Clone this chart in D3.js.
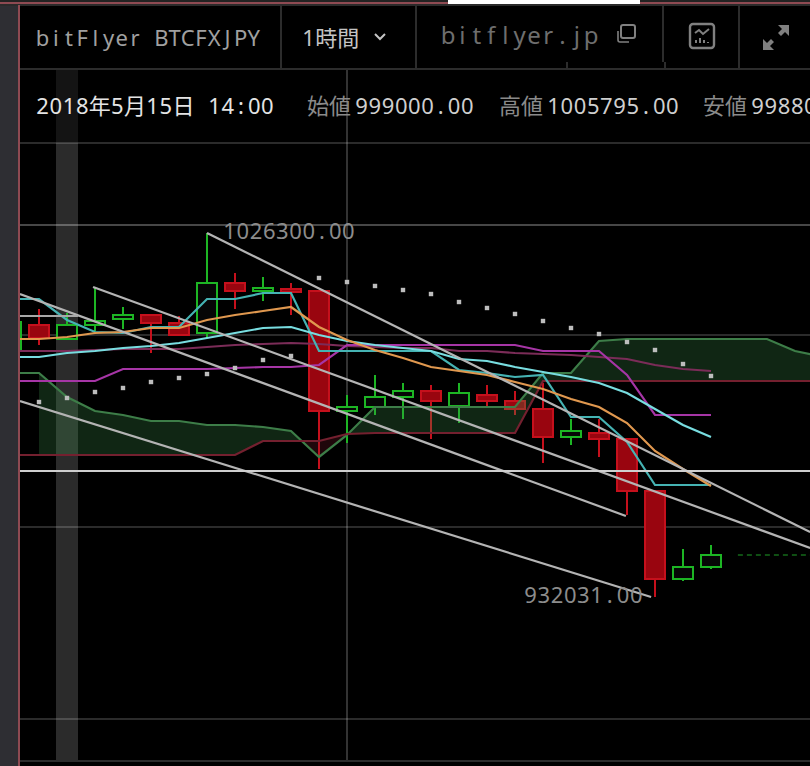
<!DOCTYPE html>
<html><head><meta charset="utf-8">
<script src="https://cdnjs.cloudflare.com/ajax/libs/d3/7.8.5/d3.min.js"></script>
<style>html,body{margin:0;padding:0;background:#000;overflow:hidden}svg{display:block}</style>
</head><body><svg id="c" width="810" height="766"></svg>
<script>
const candleIndex = d3.range(-1, 25);
const opens  = [996260,1002480,998850,1002480,1004030,1005070,1002990,1000400,1013350,1011280,1011800,1011280,980200,981240,983830,985380,981500,984350,982790,980720,973470,974500,972950,959480,936690,939800];
const highs  = [1003250,1006620,1005580,1012320,1007140,1005070,1004810,1026300,1015940,1014910,1013350,1011280,984350,989530,987450,986940,987450,986940,985380,987450,978130,978130,972950,959480,944460,945500];
const lows   = [996260,997300,998850,1000920,1001440,995220,999890,999110,1006620,1008690,1005070,965180,971910,979170,978130,972950,977090,981500,979170,966730,971400,968290,953270,932030,936170,939280];
const closes = [1003250,999110,1002480,1003510,1005070,1002990,999890,1013350,1011280,1012060,1011020,980200,981240,983830,985380,982790,984860,982790,980720,973470,975020,972950,959480,936690,939800,942910];
const tenkan = [1009210,1009210,1003770,1000660,1000400,1001960,1001960,1009210,1009210,1010760,1010760,995740,995740,995740,995740,995740,990820,990040,989010,989530,978650,978650,972170,961040,961040,961040];
const kijun  = [994190,994190,995220,995740,996520,997040,997810,999110,1000400,1001700,1001960,999890,998330,997300,996520,995740,993670,993150,991600,990300,989010,987450,984860,980720,976580,973470];
const ema    = [998850,998850,999370,1000400,1000660,1001700,1001700,1003770,1005070,1006100,1007140,1001960,998590,996000,993930,991600,990560,989530,987710,985900,983310,981240,977090,969840,965180,960780];
const sma    = [987970,987970,987970,987970,991080,991080,991080,991080,991340,991600,991600,992120,997300,997300,997300,997300,997300,997300,997300,995740,995740,995740,989530,979170,979170,979170];
const chikou = [995740,995740,995740,996000,996260,996260,996260,996780,997300,997550,997810,997550,997040,996780,996520,996520,995740,995740,995220,994960,994710,994190,993670,992120,991080,990560];
const spanIndex = d3.range(-1, 29);
const spanA = [990040,990040,983830,980200,979170,977610,977610,976580,976580,976060,975020,968290,973990,981240,981240,981240,981240,981240,981240,990040,990040,998330,998850,998850,998850,998850,998850,998850,995740,994190];
const spanB = [968800,968800,968800,968800,968800,968800,968800,968800,968800,972430,972430,972430,974240,974500,974500,974500,974500,974500,974500,987970,987970,987970,987970,987970,987970,987970,987970,987970,987970,987970];
const psarIndex = d3.range(0, 25);
const psar = [982530,983570,985120,986160,987710,988750,989780,991340,993410,994450,1014650,1013610,1012580,1011540,1010500,1008430,1006880,1005330,1003510,1001700,1000140,998070,996000,992370,989270];
const trendLines = [
  [[6,1026300],[27.54,948860]],
  [[1.93,1012320],[27.54,944720]],
  [[-0.68,1010500],[20.96,953010]],
  [[-0.68,982790],[21.86,932030]]
];
const gridPrices = [1049610,999880,950160,900430];
const brightGridPrice = 1028380;
const shortLine = [[-0.68,1004810],[1.39,1004810]];
const lastPrice = 964660;
const openPending = [[24.96,942910],[27.6,942910]];
const highLabel = "1026300.00", lowLabel = "932031.00";
const ohlcLabels = [["始値","999000.00"],["高値","1005795.00"],["安値","998800.00"]];

const W=810,H=766,L=19;
const svg=d3.select("#c");
const x=d3.scaleLinear().domain([0,1]).range([39,67]);
const y=d3.scaleLinear().domain([1086650,888256]).range([0,766]);
const defs=svg.append("defs");
defs.append("clipPath").attr("id","plot").append("rect").attr("x",L+1).attr("y",70).attr("width",W-L).attr("height",690);

svg.append("rect").attr("width",W).attr("height",H).attr("fill","#000");

// frame
svg.append("rect").attr("x",0).attr("y",0).attr("width",18).attr("height",H).attr("fill","#2e2e33");
svg.append("rect").attr("x",0).attr("y",0).attr("width",W).attr("height",2).attr("fill","#222");
svg.append("rect").attr("x",0).attr("y",2).attr("width",W).attr("height",2).attr("fill","#8e4a52");
svg.append("rect").attr("x",0).attr("y",4).attr("width",W).attr("height",2).attr("fill","#2a2a2a");
svg.append("rect").attr("x",448).attr("y",0).attr("width",192).attr("height",4).attr("fill","#fff");
svg.append("rect").attr("x",18).attr("y",5).attr("width",2).attr("height",H).attr("fill","#8e4a52");

// highlighted band
svg.append("rect").attr("x",56).attr("y",70).attr("width",22).attr("height",73).attr("fill","#141414");
svg.append("rect").attr("x",56).attr("y",143).attr("width",22).attr("height",617).attr("fill","#2b2b2b");

// header rules
const rule=(a,b,c,d,col="#2c2c2c",w=2)=>svg.append("line").attr("x1",a).attr("y1",b).attr("x2",c).attr("y2",d).attr("stroke",col).attr("stroke-width",w);
rule(20,69,W,69);
[281,416,739].forEach(v=>rule(v,5,v,69));
rule(663,5,663,62);rule(665,62,665,69);rule(567,62,567,69);
rule(20,761,W,761);

// grid
const grid=svg.append("g").attr("clip-path","url(#plot)");
const ry=p=>Math.round(y(p));
gridPrices.forEach(p=>grid.append("line").attr("x1",20).attr("x2",W).attr("y1",ry(p)).attr("y2",ry(p)).attr("stroke","rgba(255,255,255,.17)").attr("stroke-width",2));
grid.append("line").attr("x1",20).attr("x2",W).attr("y1",ry(brightGridPrice)).attr("y2",ry(brightGridPrice)).attr("stroke","rgba(255,255,255,.28)").attr("stroke-width",2);
grid.append("line").attr("x1",347).attr("x2",347).attr("y1",70).attr("y2",760).attr("stroke","rgba(255,255,255,.2)").attr("stroke-width",2);

const plot=svg.append("g").attr("clip-path","url(#plot)");

// candles
const candles=candleIndex.map((i,k)=>({i,o:opens[k],h:highs[k],l:lows[k],c:closes[k]}));
const col=d=>d.c>=d.o?"#1db524":"#c5101c";
const cg=plot.append("g").selectAll("g").data(candles).join("g");
cg.append("line").attr("x1",d=>x(d.i)).attr("x2",d=>x(d.i)).attr("y1",d=>y(d.h)).attr("y2",d=>y(d.l)).attr("stroke",col).attr("stroke-width",2);
cg.append("rect").attr("x",d=>x(d.i)-10).attr("width",20)
  .attr("y",d=>Math.round(y(Math.max(d.o,d.c)))).attr("height",d=>Math.max(1,Math.round(y(Math.min(d.o,d.c)))-Math.round(y(Math.max(d.o,d.c)))))
  .attr("fill",d=>d.c>=d.o?"#060606":"#99050f").attr("stroke",col).attr("stroke-width",2);

// cloud
const cloud=spanIndex.map((i,k)=>({i,a:spanA[k],b:spanB[k]})).filter(d=>d.i>=0);
const X=d=>x(d.i);
defs.append("clipPath").attr("id","aboveA").append("path").attr("d",d3.area().x(X).y0(0).y1(d=>y(d.a))(cloud));
defs.append("clipPath").attr("id","belowA").append("path").attr("d",d3.area().x(X).y0(H).y1(d=>y(d.a))(cloud));
const band=d3.area().x(X).y0(d=>y(d.a)).y1(d=>y(d.b));
const cgp=plot.append("g");
cgp.append("g").attr("clip-path","url(#belowA)").append("path").attr("d",band(cloud)).attr("fill","rgba(64,150,80,.25)");
cgp.append("g").attr("clip-path","url(#aboveA)").append("path").attr("d",band(cloud)).attr("fill","rgba(140,30,50,.22)");

// indicator lines
const line=d3.line().x(d=>x(d[0])).y(d=>y(d[1]));
const drawSeries=(idx,vals,color,w=2.2)=>plot.append("path").attr("d",line(idx.map((i,k)=>[i,vals[k]]))).attr("fill","none").attr("stroke",color).attr("stroke-width",w);
drawSeries(spanIndex,spanA,"#3d7d48");
drawSeries(spanIndex,spanB,"#74202f");
drawSeries(candleIndex,chikou,"#7b2c58");
drawSeries(candleIndex,sma,"#a635a6");
drawSeries(candleIndex,tenkan,"#45b3b3");
drawSeries(candleIndex,kijun,"#78dde0");
drawSeries(candleIndex,ema,"#e0984f");

// PSAR
plot.append("g").selectAll("rect").data(psarIndex.map((i,k)=>[i,psar[k]])).join("rect")
  .attr("x",d=>x(d[0])-2.2).attr("y",d=>y(d[1])-2.2).attr("width",4.4).attr("height",4.4).attr("fill","#bdbdbd");

// drawings
trendLines.forEach(t=>plot.append("path").attr("d",line(t)).attr("fill","none").attr("stroke","#b4b4b4").attr("stroke-width",2.2));
plot.append("path").attr("d",line(shortLine)).attr("stroke","#a8a8a8").attr("stroke-width",2).attr("fill","none");
plot.append("line").attr("x1",20).attr("x2",W).attr("y1",ry(lastPrice)).attr("y2",ry(lastPrice)).attr("stroke","#cfcfcf").attr("stroke-width",2);
plot.append("path").attr("d",line(openPending)).attr("stroke","#156a1a").attr("stroke-width",1.5).attr("stroke-dasharray","5 4").attr("fill","none");

// monospace-grid text: half-width cells 13.2 px, CJK cells 22 px
const FF='"Noto Sans","Noto Sans CJK JP",sans-serif';
function mono(str,x0,yy,color,size=22,cell=13.2){
  let cx=x0,xs=[];
  for(const ch of str){const w=/[\u3000-\u9fff]/.test(ch)?size:cell;xs.push((cx+w/2).toFixed(1));cx+=w;}
  svg.append("text").attr("x",xs.join(" ")).attr("y",yy).attr("text-anchor","middle").attr("xml:space","preserve").style("white-space","pre")
    .attr("font-family",FF).attr("font-size",size).attr("fill",color).text(str);
  return cx;
}
mono("bitFlyer BTCFXJPY",36,46,"#a0a0a0");
mono("1時間",302,46,"#c4c4c4");
mono("bitflyer.jp",441,44,"#6e6e6e",24,14.3);
mono("2018年5月15日",36,114,"#e4e4e4");
mono("14:00",208,114,"#e4e4e4");
const ohlcX=[307,499,703];
ohlcLabels.forEach((o,k)=>{const e=mono(o[0],ohlcX[k],114,"#8a8a8a");mono(o[1],e+4,114,"#cfcfcf");});
mono(highLabel,223,239,"#8c8c8c");
mono(lowLabel,524,603,"#8c8c8c");

// icons
const ic=svg.append("g").attr("fill","none");
ic.append("path").attr("d","M375 34l5 5 5-5").attr("stroke","#c4c4c4").attr("stroke-width",2);
ic.append("path").attr("d","M623 25h10a2 2 0 0 1 2 2v9a2 2 0 0 1-2 2h-10a2 2 0 0 1-2-2v-9a2 2 0 0 1 2-2z").attr("stroke","#808080").attr("stroke-width",2);
ic.append("path").attr("d","M618 31v9a2 2 0 0 0 2 2h9").attr("stroke","#808080").attr("stroke-width",1.6);
ic.append("rect").attr("x",690).attr("y",24).attr("width",24).attr("height",24).attr("rx",3).attr("stroke","#808080").attr("stroke-width",2.4);
ic.append("path").attr("d","M695 33l4-3 4 4 6-5").attr("stroke","#808080").attr("stroke-width",2);
ic.append("path").attr("d","M696 40v3M700 38v5M704 40v3M708 42v1").attr("stroke","#808080").attr("stroke-width",2);
ic.append("path").attr("d","M789 25H778l4 4-4 4 3 3 4-4 4 4z").attr("fill","#808080");
ic.append("path").attr("d","M763 50H774l-4-4 4-4-3-3-4 4-4-4z").attr("fill","#808080");
</script></body></html>
